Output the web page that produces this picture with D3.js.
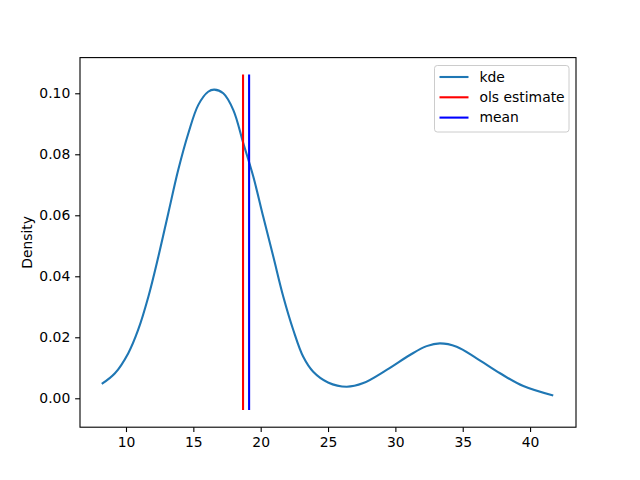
<!DOCTYPE html>
<html>
<head>
<meta charset="utf-8">
<script src="https://cdn.jsdelivr.net/npm/d3@7"></script>
<style>
	body { margin: 0; background: #fff; }
	text { font-family: "DejaVu Sans", sans-serif; }
</style>
</head>
<body>
<script>
window.onload = function(){
	var w = 640, h = 480;

	// kde curve
	var kdeX = [8.2, 9.18, 10.17, 10.9, 11.66, 12.4, 13.14, 13.88, 14.63, 15.37, 16.1, 16.55,
		17.22, 17.97, 18.71, 19.45, 20.19, 20.94, 21.68, 22.42, 23.16, 23.9, 25.0,
		26.38, 27.62, 29.35, 31.08, 32.32, 33.31, 34.55, 36.03, 37.77, 39.5, 41.72];
	var kdeY = [0.0047, 0.0082, 0.0148, 0.0224, 0.0333, 0.0464, 0.0607, 0.0749, 0.0869, 0.0962, 0.1005, 0.1012,
		0.1000, 0.0945, 0.0836, 0.0727, 0.0595, 0.0464, 0.0333, 0.0224, 0.0136, 0.0087, 0.0052,
		0.0038, 0.0050, 0.0093, 0.0142, 0.0171, 0.0180, 0.0169, 0.0131, 0.0082, 0.0040, 0.0009];

	var vlineNames = ["ols estimate", "mean"];
	var vlineX = [18.69, 19.14];
	var vlineColors = ["#ff0000", "#0000ff"];
	var vlineRange = [-0.0038, 0.1062];

	var xTicks = [10, 15, 20, 25, 30, 35, 40];
	var yTicks = [0.00, 0.02, 0.04, 0.06, 0.08, 0.10];

	var kde = kdeX.map(function(d, i){
		return {x: d, y: kdeY[i]};
	});

	var left = 80, right = 576, top = 57.6, bottom = 427.2;

	var svg = d3.select("body")
		.append("svg")
		.attr("width", w)
		.attr("height", h)
		.attr("class", "chart");

	var x = d3.scaleLinear()
		.domain([6.585, 43.41])
		.range([left, right]);

	var y = d3.scaleLinear()
		.domain([-0.00948, 0.1117])
		.range([bottom, top]);

	var xAxis = d3.axisBottom(x)
		.tickValues(xTicks)
		.tickSizeOuter(0)
		.tickSize(4.86)
		.tickPadding(4.86)
		.tickFormat(d3.format("d"));

	var yAxis = d3.axisLeft(y)
		.tickValues(yTicks)
		.tickSizeOuter(0)
		.tickSize(4.86)
		.tickPadding(4.86)
		.tickFormat(d3.format(".2f"));

	var gx = svg.append("g")
		.attr("class", "xaxis")
		.attr("transform", "translate(0," + bottom + ")")
		.call(xAxis);

	var gy = svg.append("g")
		.attr("class", "yaxis")
		.attr("transform", "translate(" + left + ",0)")
		.call(yAxis);

	[gx, gy].forEach(function(g){
		g.select(".domain").remove();
		g.selectAll("line").attr("stroke", "#000").attr("stroke-width", 1.1);
		g.selectAll("text")
			.attr("fill", "#000")
			.style("font-size", "13.9px")
			.style("font-family", "DejaVu Sans");
	});

	// kde line
	var line = d3.line()
		.x(function(d){ return x(d.x); })
		.y(function(d){ return y(d.y); })
		.curve(d3.curveCatmullRom.alpha(0.5));

	svg.append("path")
		.datum(kde)
		.attr("class", "kde")
		.attr("d", line)
		.attr("fill", "none")
		.attr("stroke", "#1f77b4")
		.attr("stroke-width", 2.1);

	// vertical lines
	svg.selectAll(".vline")
		.data(vlineX)
		.enter()
		.append("line")
		.attr("class", "vline")
		.attr("x1", function(d){ return x(d); })
		.attr("x2", function(d){ return x(d); })
		.attr("y1", y(vlineRange[0]))
		.attr("y2", y(vlineRange[1]))
		.attr("stroke", function(d, i){ return vlineColors[i]; })
		.attr("stroke-width", 2.1);

	// frame
	svg.append("rect")
		.attr("class", "frame")
		.attr("x", left)
		.attr("y", top)
		.attr("width", right - left)
		.attr("height", bottom - top)
		.attr("fill", "none")
		.attr("stroke", "#000")
		.attr("stroke-width", 1.1);

	svg.append("text")
		.attr("class", "ylabel")
		.attr("transform", "translate(32," + ((top + bottom) / 2) + ") rotate(-90)")
		.attr("text-anchor", "middle")
		.style("font-size", "13.9px")
		.text("Density");

	// legend
	var legendNames = ["kde"].concat(vlineNames);
	var legendColors = ["#1f77b4"].concat(vlineColors);

	var legend = svg.append("g")
		.attr("class", "legend");

	legend.append("rect")
		.attr("x", 434.5)
		.attr("y", 65.5)
		.attr("width", 134.5)
		.attr("height", 66.5)
		.attr("rx", 2.8)
		.attr("fill", "#fff")
		.attr("fill-opacity", 0.8)
		.attr("stroke", "#ccc")
		.attr("stroke-width", 1);

	var items = legend.selectAll(".item")
		.data(legendNames)
		.enter()
		.append("g")
		.attr("class", "item")
		.attr("transform", function(d, i){
			return "translate(0," + (77 + i * 20.3) + ")";
		});

	items.append("line")
		.attr("x1", 439.5)
		.attr("x2", 468.5)
		.attr("stroke", function(d, i){ return legendColors[i]; })
		.attr("stroke-width", 2.1);

	items.append("text")
		.attr("x", 479.5)
		.attr("dy", "0.35em")
		.style("font-size", "13.9px")
		.text(function(d){ return d; });
};
</script>
</body>
</html>
